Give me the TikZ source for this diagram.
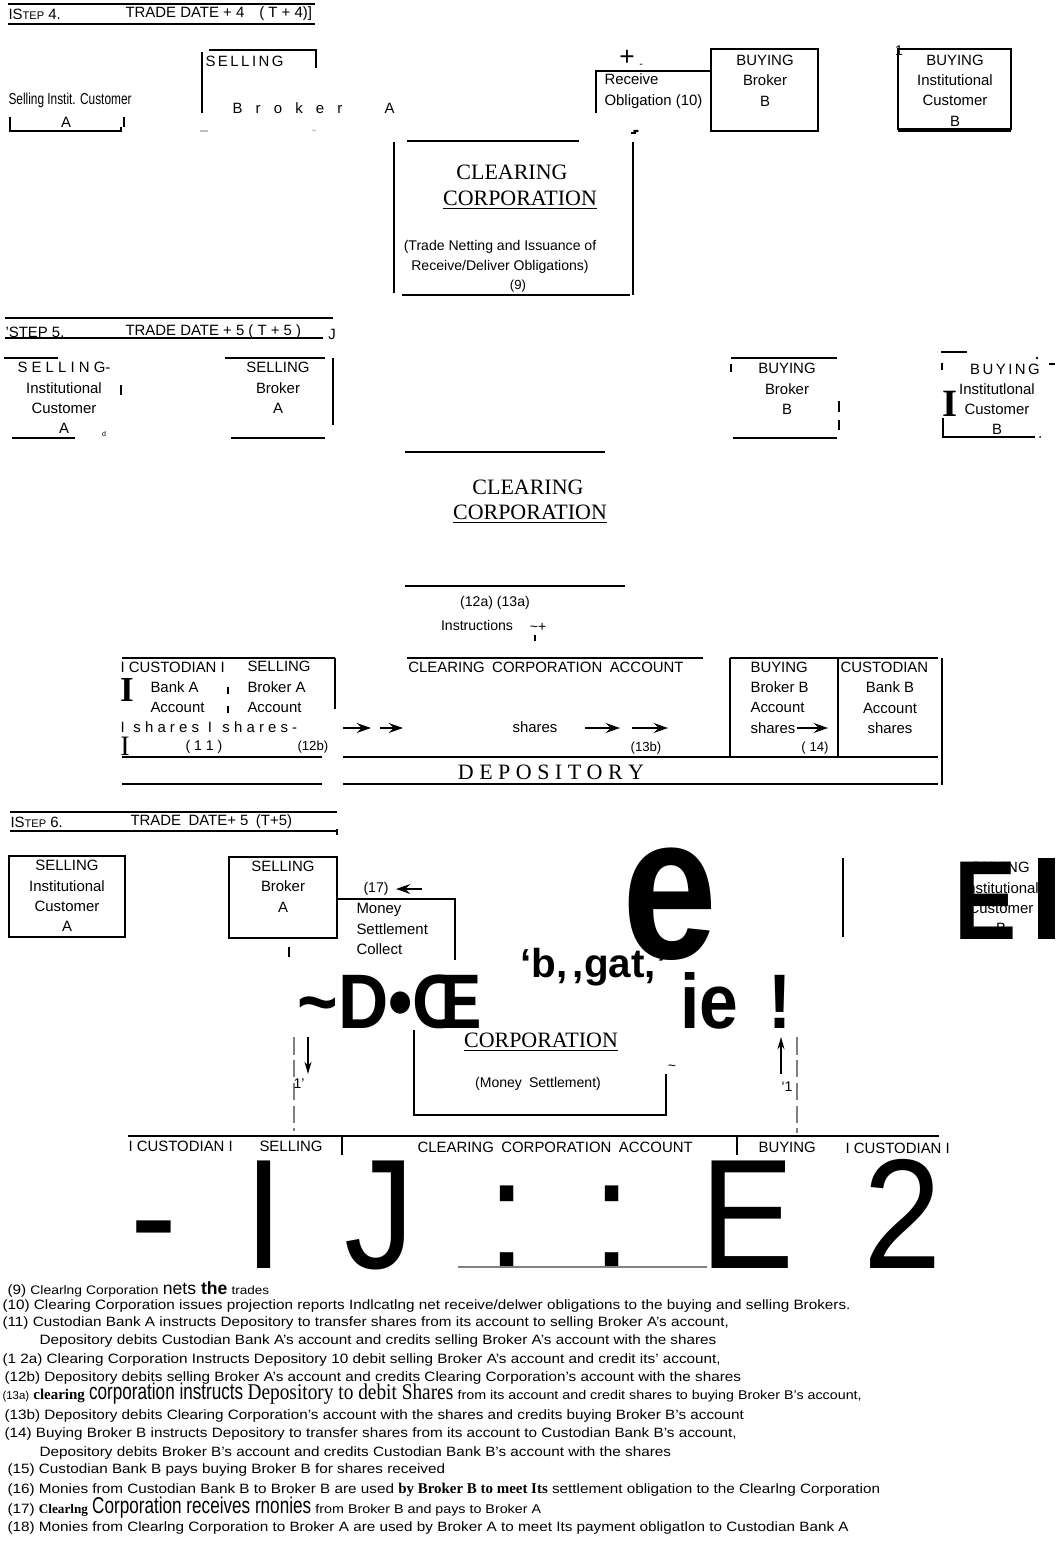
\documentclass[tikz,border=0pt]{standalone}
\usepackage{fontspec}
\setmainfont{Liberation Sans}
\newfontfamily\romfont{Liberation Serif}
\newfontfamily\romcond[FakeStretch=0.86]{Liberation Serif}
\newfontfamily\condfont[FakeStretch=0.75]{Liberation Sans}
\newfontfamily\notefont[FakeStretch=1.13]{Liberation Sans}
\usetikzlibrary{arrows.meta}
\newcommand{\fsz}[1]{\fontsize{#1}{#1}\selectfont}

\tikzset{
  lbl/.style={font=\fontsize{8.5}{11.6}\selectfont, inner sep=0pt, align=center},
  lblw/.style={lbl, anchor=west, align=left},
  corp/.style={font=\romfont\fontsize{12.5}{14}\selectfont, inner sep=0pt},
  note/.style={font=\notefont\fsz{7.7}, anchor=base west, inner sep=0pt},
  big/.style={font=\bfseries\fontsize{#1}{#1}\selectfont, inner sep=0pt, anchor=base},
  tall/.style={font=\fontsize{89}{89}\selectfont, inner sep=0pt, anchor=base, xscale=0.9},
  shr/.style={line width=1.3pt, -{Stealth[length=8pt,width=5.5pt]}},
  thinarr/.style={line width=0.8pt, -{Stealth[length=7pt,width=4pt]}},
  brk/.style={dash pattern=on 10pt off 3pt, gray},
}

\begin{document}
\begin{tikzpicture}[x=0.02cm, y=-0.02cm, line width=0.6pt]
\useasboundingbox (0,0) rectangle (1055,1554);

% ---------------- step 4
\draw (8,4) -- (315,4);
\draw (8,24) -- (315,24);
\node[lblw] (s4) at (8,14) {IS{\fsz{6.3}TEP} 4.};
\node[lblw] (s4date) at (125,14) {TRADE DATE + 4\quad ( T + 4)]};

\node[anchor=west, inner sep=0pt, font=\condfont\fsz{9}] (sic4) at (8,100) {Selling Instit. Customer};
\node[lbl] (sic4a) at (66,122) {A};
\draw (10,117) -- (10,131) -- (121,131) -- (121,127);
\draw (124,117) -- (124,127);

\draw (202,52) -- (202,113);
\draw (209,50) -- (316,50) -- (316,68);
\node[lblw] (sb4) at (205,61) {S\,E\,L\,L\,I\,N\,G};
\node[lblw] (sb4a) at (232,108) {B\hspace{7.5pt}r\hspace{7.5pt}o\hspace{7.5pt}k\hspace{7.5pt}e\hspace{7.5pt}r\hspace{24pt}A};
\draw[gray!50] (200,131) -- (208,131);
\draw[gray!50] (312,130) -- (316,131);

\draw (596,113) -- (596,71) -- (711,71);
\node[inner sep=0pt, font=\fsz{15}] (plus4) at (627,58) {+};
\node[inner sep=0pt, font=\fsz{6}] (dash4) at (641,66) {-};
\node[lblw] (recv4) at (604,91) {Receive\\Obligation (10)};
\node[inner sep=0pt, font=\bfseries\fsz{11}] (minus4) at (636,133) {-};

\draw (711,49) rectangle (818,131);
\node[lbl] (bb4) at (765,80.5) {BUYING\\Broker\\B};

\draw (898,49) rectangle (1011,129);
\draw (898,131) -- (1011,131);
\node[inner sep=0pt, font=\fsz{8}] (one4) at (899,51) {1};
\node[lbl] (bic4) at (955,90.5) {BUYING\\Institutional\\Customer\\B};

\draw (407,141) -- (579,141);
\draw (394,142) -- (394,293);
\draw (633,142) -- (633,295);
\draw (631,133) -- (636,133);
\draw (402,295) -- (630,295);
\node[corp] (cc4a) at (512,172) {CLEARING};
\node[corp] (cc4b) at (520,198) {CORPORATION};
\draw ([yshift=-1.8pt]cc4b.base west) -- ([yshift=-1.8pt]cc4b.base east);
\node[lbl, font=\fontsize{8}{11.3}\selectfont] (cc4c) at (500,257) {(Trade Netting and Issuance of\\Receive/Deliver Obligations)};
\node[lbl, font=\fsz{7.5}] (cc4d) at (518,286) {(9)};

% ---------------- step 5
\draw (5,318) -- (333,318);
\draw (5,338) -- (323,338);
\node[lblw] (s5) at (5,332) {’STEP 5.};
\node[lblw] (s5date) at (125,332) {TRADE DATE + 5 ( T + 5 )};
\node[lbl] (s5j) at (332,334) {J};

\draw (4,358) -- (58,358);
\node[lbl] (sic5) at (64,398) {S E L L I N G-\\Institutional\\Customer\\A};
\draw (12,438) -- (75,438);
\draw (121,385) -- (121,395);
\node[inner sep=0pt, font=\fsz{4}] (d5) at (104,434) {d};

\draw (225,358) -- (325,358);
\node[lbl] (sb5) at (278,388) {SELLING\\Broker\\A};
\draw (333,358) -- (333,425);
\draw (231,438) -- (325,438);

\draw (731,358) -- (837,358);
\draw (731,364) -- (731,372);
\node[lbl] (bb5) at (787,389) {BUYING\\Broker\\B};
\draw (839,401) -- (839,412);
\draw (839,420) -- (839,430);
\draw (733,438) -- (837,438);

\draw[line width=1.2pt] (941,352) -- (967,352);
\draw (942,363) -- (942,370);
\draw (1049,364) -- (1055,364);
\node[lbl] (bic5) at (1005,369) {B\,U\,Y\,I\,N\,G};
\fill (1037,358) circle (1.3);
\node[lbl] (bic5b) at (997,409) {Institutlonal\\Customer\\B};
\node[inner sep=0pt, font=\romfont\bfseries\fsz{22}] (bic5i) at (950,404) {I};
\draw (943,418) -- (943,437) -- (1035,437);
\fill (1040,437) circle (1);

\draw (405,452) -- (605,452);
\node[corp] (cc5a) at (528,487) {CLEARING};
\node[corp] (cc5b) at (530,512) {CORPORATION};
\draw ([yshift=-1.8pt]cc5b.base west) -- ([yshift=-1.8pt]cc5b.base east);
\draw (405,586) -- (625,586);

\node[lbl, font=\fsz{8}] (instr1) at (495,603) {(12a) (13a)};
\node[lbl, font=\fsz{8}] (instr2) at (477,625) {Instructions};
\node[inner sep=0pt, font=\fsz{8}] (tilde5) at (538,627) {\textasciitilde+};
\draw (535,635) -- (535,641);

% depository
\draw (122,658) -- (335,658);
\draw (335,658) -- (335,709);
\draw (407,658) -- (703,658);
\draw (730,658) -- (938,658);
\draw (730,658) -- (730,757);
\draw (838,658) -- (838,757);
\draw (942,658) -- (942,785);
\draw (122,757) -- (322,757);
\draw (122,784) -- (322,784);
\draw (343,757) -- (938,757);
\draw (343,784) -- (938,784);

\node[lblw] (cua) at (120,667) {I CUSTODIAN I};
\node[lblw] (sba) at (247,687) {SELLING\\Broker A\\Account};
\node[lblw] (cub) at (150,697) {Bank A\\Account};
\node[inner sep=0pt, font=\romfont\bfseries\fsz{20}] (ibar1) at (127,690) {I};
\draw (228,687) -- (228,694);
\draw (228,706) -- (228,713);
\node[lblw] (sha) at (120,727) {I\hspace{5pt}s h a r e s\hspace{5pt}I\hspace{6pt}s h a r e s -};
\node[inner sep=0pt, font=\romfont\fsz{16}] (ibar2) at (125,746) {I};
\node[lblw, font=\fsz{8}] (n11) at (185,747) {( 1 1 )};
\node[lblw, font=\fsz{7.5}] (n12b) at (297,747) {(12b)};

\node[lbl] (cca) at (546,667) {CLEARING\enspace CORPORATION\enspace ACCOUNT};
\coordinate (a1) at (343,728); \coordinate (a2) at (371,728);
\coordinate (a3) at (380,728); \coordinate (a4) at (403,728);
\coordinate (a5) at (585,728); \coordinate (a6) at (620,728);
\coordinate (a7) at (632,728); \coordinate (a8) at (668,728);
\draw[shr] (a1) -- (a2);
\draw[shr] (a3) -- (a4);
\draw[shr] (a5) -- (a6);
\draw[shr] (a7) -- (a8);
\node[lbl] (shc) at (535,727) {shares};
\node[lbl, font=\fsz{7.5}] (n13b) at (646,748) {(13b)};
\node[inner sep=0pt, font=\romfont\fsz{12.5}] (dep5) at (551,772) {D E P O S I T O R Y};

\node[lblw] (bba) at (750,697.5) {BUYING\\Broker B\\Account\\shares};
\coordinate (a9) at (797,728); \coordinate (a10) at (828,728);
\draw[shr] (a9) -- (a10);
\node[lbl, font=\fsz{7.5}] (n14) at (815,748) {( 14)};
\node[lblw] (cubt) at (840,667) {CUSTODIAN};
\node[lbl] (cubb) at (890,708) {Bank B\\Account\\shares};

% ---------------- step 6
\draw (10,812) -- (337,812);
\draw (10,831) -- (337,831);
\draw (337,829) -- (337,835);
\node[lblw] (s6) at (10,822) {IS{\fsz{6.3}TEP} 6.};
\node[lblw] (s6date) at (130,822) {TRADE\enspace DATE+ 5\enspace (T+5)};

\draw (9,856) rectangle (125,937);
\node[lbl] (sic6) at (67,896) {SELLING\\Institutional\\Customer\\A};
\draw (229,857) rectangle (337,938);
\node[lbl] (sb6) at (283,886.5) {SELLING\\Broker\\A};
\draw (289,947) -- (289,957);

\draw (337,899) -- (455,899) -- (455,960);
\node[lblw] (mon6) at (356,929) {Money\\Settlement\\Collect};
\node[lblw, font=\fsz{8}] (n17) at (363,889) {(17)};
\coordinate (a11) at (422,889); \coordinate (a12) at (396,889);
\draw[shr] (a11) -- (a12);

\draw (843,858) -- (843,937);
\node[lbl] (bic6) at (1001,898) {BUYING\\Institutional\\Customer\\B};
\node[big=64, xscale=0.83] (ebig) at (986,939) {E};
\fill (1038,858) rectangle (1055,939);

\node[big=117, xscale=0.83] (ehuge) at (670,958) {e};
\node[big=23, anchor=base west] (bgat) at (520,977) {‘b,\hspace{3pt},gat,’};
\node[big=44, anchor=base west, xscale=0.9] (dce) at (297,1028) {\textasciitilde D•Œ};
\node[big=44, anchor=base west, xscale=0.9] (iex) at (680,1028) {ie\hspace{19pt}!};

\node[corp] (cc6) at (541,1040) {CORPORATION};
\draw ([yshift=-1.8pt]cc6.base west) -- ([yshift=-1.8pt]cc6.base east);
\draw (414,1030) -- (414,1115) -- (666,1115) -- (666,1074);
\node[inner sep=0pt, font=\fsz{8}] (tl6) at (672,1068) {\textasciitilde};
\node[lbl, font=\fsz{8}] (ms6) at (538,1084) {(Money\enspace Settlement)};

\draw[brk] (294,1037) -- (294,1131);
\coordinate (d1) at (308,1037); \coordinate (d2) at (308,1074);
\draw[thinarr] (d1) -- (d2);
\node[inner sep=0pt, font=\fsz{8}] (one6a) at (299,1084) {1’};
\draw[brk] (797,1037) -- (797,1133);
\coordinate (u1) at (781,1074); \coordinate (u2) at (781,1037);
\draw[thinarr] (u1) -- (u2);
\node[inner sep=0pt, font=\fsz{8}] (one6b) at (787,1087) {‘1};

\draw (128,1136) -- (939,1136);
\draw (342,1136) -- (342,1155);
\draw (737,1136) -- (737,1155);
\node[lblw] (cu6a) at (128,1146) {I CUSTODIAN I};
\node[lblw] (sb6a) at (259,1146) {SELLING};
\node[lblw] (cc6a) at (417,1147) {CLEARING\enspace CORPORATION\enspace ACCOUNT};
\node[lblw] (bb6a) at (758,1147) {BUYING};
\node[lblw] (cu6b) at (845,1148) {I CUSTODIAN I};

\node[tall] (g1) at (154,1268) {-};
\node[tall] (g2) at (264,1268) {I};
\node[tall] (g3) at (380,1268) {J};
\node[tall] (g4) at (507,1268) {:};
\node[tall] (g5) at (612,1268) {:};
\node[tall] (g6) at (747,1268) {E};
\node[tall] (g7) at (903,1268) {2};
\draw[gray] (458,1267) -- (707,1267);

% ---------------- notes
\node[note] (n9) at (7,1294) {(9) {\fsz{7}Clearlng Corporation} {\normalfont\fsz{10}nets \bfseries the} {\fsz{6.8}trades}};
\node[note] (n10) at (2,1309) {(10) Clearing Corporation issues projection reports Indlcatlng net receive/delwer obligations to the buying and selling Brokers.};
\node[note] (n11a) at (2,1326) {(11) Custodian Bank A instructs Depository to transfer shares from its account to selling Broker A’s account,};
\node[note] (n11b) at (39,1344) {Depository debits Custodian Bank A’s account and credits selling Broker A’s account with the shares};
\node[note] (n12a) at (2,1363) {(1 2a) Clearing Corporation Instructs Depository 10 debit selling Broker A’s account and credit its’ account,};
\node[note] (n12b2) at (4,1381) {(12b) Depository debits selling Broker A’s account and credits Clearing Corporation’s account with the shares};
\node[note] (n13a) at (2,1399) {{\normalfont\fsz{6.5}(13a)} {\romfont\bfseries\fsz{8.5}clearing} {\condfont\fsz{13}corporation instructs} {\romcond\fsz{12.8}Depository to debit Shares} {\fsz{7.2}from its account and credit shares to buying Broker B’s account,}};
\node[note] (n13b2) at (4,1419) {(13b) Depository debits Clearing Corporation’s account with the shares and credits buying Broker B’s account};
\node[note] (n14a) at (4,1437) {(14) Buying Broker B instructs Depository to transfer shares from its account to Custodian Bank B’s account,};
\node[note] (n14b) at (39,1456) {Depository debits Broker B’s account and credits Custodian Bank B’s account with the shares};
\node[note] (n15) at (7,1473) {(15) Custodian Bank B pays buying Broker B for shares received};
\node[note] (n16) at (7,1493) {(16) Monies from Custodian Bank B to Broker B are used {\romfont\bfseries\fsz{8.5}by Broker B to meet Its} settlement obligation to the Clearlng Corporation};
\node[note] (n17b) at (7,1513) {(17) {\romfont\bfseries\fsz{7.5}Clearlng} {\condfont\fsz{13}Corporation receives rnonies} {\fsz{7.2}from Broker B and pays to Broker A}};
\node[note] (n18) at (7,1531) {(18) Monies from Clearlng Corporation to Broker A are used by Broker A to meet Its payment obligatlon to Custodian Bank A};
\end{tikzpicture}
\end{document}
